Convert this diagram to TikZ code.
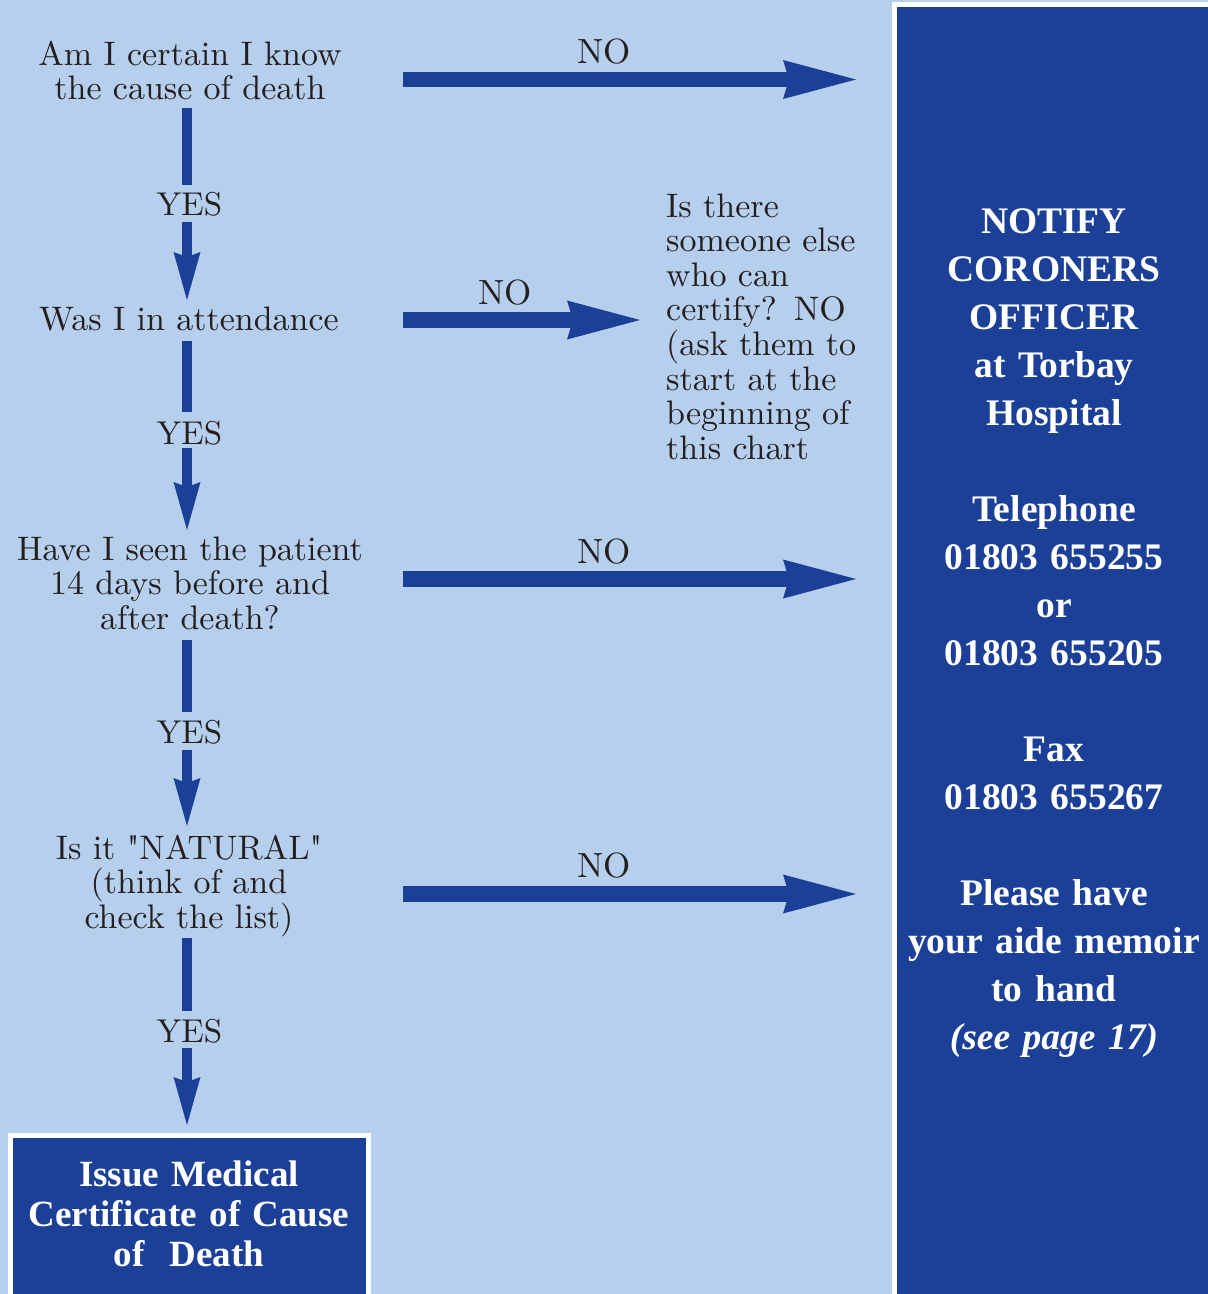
\documentclass[tikz,border=0pt]{standalone}
\usepackage{fontspec}
\usetikzlibrary{arrows.meta}
\newfontfamily\boldserif{Liberation Serif}
\newfontfamily\lmten{lmroman10-regular.otf}
\definecolor{lblue}{RGB}{182,207,237}
\definecolor{dblue}{RGB}{28,64,152}
\definecolor{ink}{HTML}{231F20}
\tikzset{
  qtext/.style={font=\lmten\fontsize{34}{34.6}\selectfont, text=ink, align=center, text width=390pt, anchor=base, inner sep=0pt},
  mtext/.style={font=\lmten\fontsize{34}{34.6}\selectfont, text=ink, align=left, text width=230pt, anchor=base west, inner sep=0pt},
  yeslbl/.style={font=\lmten\fontsize{33}{34.6}\selectfont, text=ink, anchor=base, inner sep=0pt},
  nolbl/.style={font=\lmten\fontsize{35}{34.6}\selectfont, text=ink, anchor=base, inner sep=0pt},
  ptext/.style={font=\boldserif\bfseries\fontsize{37.5}{48}\selectfont, text=white, align=center, text width=300pt, anchor=base, inner sep=0pt},
  btext/.style={font=\boldserif\bfseries\fontsize{37}{40}\selectfont, text=white, align=center, text width=350pt, anchor=base, inner sep=0pt},
  harrow/.style={draw=dblue, line width=15.6pt, -{Stealth[length=73pt,width=39pt,inset=6pt,line width=0pt]}},
  vshaft/.style={draw=dblue, line width=10pt},
  varrow/.style={draw=dblue, line width=10pt, -{Stealth[length=48pt,width=27pt,inset=5pt,line width=0pt]}}
}
\begin{document}
\begin{tikzpicture}[x=1pt,y=-1pt]
\useasboundingbox (0,0) rectangle (1208,1294);
\fill[lblue] (0,0) rectangle (1208,1294);
% right panel
\fill[white] (892,2) rectangle (1208,1294);
\fill[dblue] (897,7) rectangle (1208,1294);
% bottom box
\fill[white] (8,1133) rectangle (371,1294);
\fill[dblue] (13,1138) rectangle (366,1294);

% questions
\node[qtext] (q1) at (190,65) {Am I certain I know\\the cause of death};
\node[qtext] (q2) at (189,330) {Was I in attendance};
\node[qtext] (q3) at (190,560) {Have I seen the patient\\14 days before and\\after death?};
\node[qtext] (q4) at (189,859) {Is it "NATURAL"\\(think of and\\check the list)};

\node[yeslbl] (yes1) at (189.5,215) {YES};
\node[yeslbl] (yes2) at (189.5,444) {YES};
\node[yeslbl] (yes3) at (189.5,743) {YES};
\node[yeslbl] (yes4) at (189.5,1042) {YES};

\node[nolbl] (no1) at (604,63) {NO};
\node[nolbl] (no2) at (505,304) {NO};
\node[nolbl] (no3) at (604,563) {NO};
\node[nolbl] (no4) at (604,877) {NO};

\node[mtext] (other) at (666,217) {Is there\\someone else\\who can\\certify? NO\\(ask them to\\start at the\\beginning of\\this chart};

\node[ptext] (panel) at (1054,233) {NOTIFY\\CORONERS\\OFFICER\\at Torbay\\Hospital\\[48pt]Telephone\\01803 655255\\or\\01803 655205\\[48pt]Fax\\01803 655267\\[48pt]Please have\\your aide memoir\\to hand\\{\itshape (see page 17)}};

\node[btext] (issue) at (189,1186) {Issue Medical\\Certificate of Cause\\of~~Death};

% connector end points
\coordinate (q1s) at (187,108);  \coordinate (y1n) at (187,185);
\coordinate (y1s) at (187,222);  \coordinate (q2n) at (187,300);
\coordinate (q2s) at (187,341);  \coordinate (y2n) at (187,412);
\coordinate (y2s) at (187,448);  \coordinate (q3n) at (187,530);
\coordinate (q3s) at (187,640);  \coordinate (y3n) at (187,712);
\coordinate (y3s) at (187,750);  \coordinate (q4n) at (187,826);
\coordinate (q4s) at (187,938);  \coordinate (y4n) at (187,1011);
\coordinate (y4s) at (187,1048); \coordinate (issuen) at (187,1125);

\coordinate (h1a) at (403,79.5); \coordinate (h1b) at (856,79.5);
\coordinate (h2a) at (403,320);  \coordinate (h2b) at (640,320);
\coordinate (h3a) at (403,579);  \coordinate (h3b) at (856,579);
\coordinate (h4a) at (403,894);  \coordinate (h4b) at (856,894);

\draw[vshaft] (q1s) -- (y1n);
\draw[varrow] (y1s) -- (q2n);
\draw[vshaft] (q2s) -- (y2n);
\draw[varrow] (y2s) -- (q3n);
\draw[vshaft] (q3s) -- (y3n);
\draw[varrow] (y3s) -- (q4n);
\draw[vshaft] (q4s) -- (y4n);
\draw[varrow] (y4s) -- (issuen);

\draw[harrow] (h1a) -- (h1b);
\draw[harrow] (h2a) -- (h2b);
\draw[harrow] (h3a) -- (h3b);
\draw[harrow] (h4a) -- (h4b);
\end{tikzpicture}
\end{document}
